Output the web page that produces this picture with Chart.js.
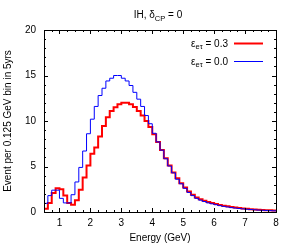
<!DOCTYPE html>
<html>
<head>
<meta charset="utf-8">
<script src="https://cdn.jsdelivr.net/npm/chart.js@4"></script>
<style>
  body { margin: 0; background: #fff; }
  canvas { display: block; }
</style>
</head>
<body>
<canvas id="histChart" width="294" height="245"></canvas>
<script>
// bin left edges: 0.5 .. 7.875 GeV, width 0.125
const binStart = 0.5;
const binWidth = 0.125;
const eps03 = [0.35, 1.0, 2.1, 2.6, 2.5, 1.8, 1.0, 0.8, 1.3, 2.45, 3.8, 5.1,
  6.4, 7.1, 8.3, 9.45, 10.4, 11.1, 11.5, 11.85, 12.0, 12.0, 11.85, 11.55, 11.1, 10.6, 10.0, 9.35,
  8.55, 7.7, 6.8, 5.9, 5.1, 4.35, 3.7, 3.15, 2.7, 2.25, 1.9, 1.6,
  1.4, 1.25, 1.1, 0.98, 0.88, 0.78, 0.7, 0.62, 0.55, 0.49, 0.44, 0.39, 0.35, 0.31, 0.28, 0.25, 0.22, 0.2, 0.18, 0.16];
const eps00 = [0.95, 1.8, 2.4, 2.4, 1.5, 1.0, 1.0, 1.9, 3.3, 4.9, 6.7, 8.6,
  10.2, 11.6, 12.8, 13.6, 14.4, 14.7, 15.0, 15.0, 14.7, 14.4, 13.9, 13.15, 12.4, 11.6, 10.6, 9.7,
  8.65, 7.7, 6.8, 5.85, 5.05, 4.3, 3.6, 3.1, 2.6, 2.15, 1.8, 1.5,
  1.3, 1.15, 1.0, 0.9, 0.8, 0.7, 0.62, 0.55, 0.48, 0.43, 0.38, 0.34, 0.3, 0.27, 0.24, 0.21, 0.19, 0.17, 0.15, 0.13];
const xTicks = [1, 2, 3, 4, 5, 6, 7, 8];
const yTicks = [0, 5, 10, 15, 20];

const FONT = 'Liberation Sans, Arial, sans-serif';

function toSteps(vals) {
  const pts = vals.map((v, i) => ({ x: binStart + i * binWidth, y: v }));
  pts.push({ x: binStart + vals.length * binWidth, y: vals[vals.length - 1] });
  return pts;
}

// text with a subscript part, e.g. ['IH, δ', 'CP', ' = 0']
function drawSub(ctx, parts, x, y, align) {
  const big = '10px ' + FONT, small = '7.5px ' + FONT;
  ctx.font = big; const w0 = ctx.measureText(parts[0]).width;
  ctx.font = small; const w1 = ctx.measureText(parts[1]).width;
  ctx.font = big; const w2 = ctx.measureText(parts[2]).width;
  const total = w0 + w1 + w2;
  let sx = align === 'right' ? x - total : x - total / 2;
  ctx.textAlign = 'left';
  ctx.textBaseline = 'alphabetic';
  ctx.font = big; ctx.fillText(parts[0], sx, y);
  ctx.font = small; ctx.fillText(parts[1], sx + w0, y + 2.5);
  ctx.font = big; ctx.fillText(parts[2], sx + w0 + w1, y);
}

const framePlugin = {
  id: 'frame',
  afterDraw(chart) {
    const { ctx, chartArea: a, scales: { x, y } } = chart;
    ctx.save();
    ctx.strokeStyle = '#000';
    ctx.lineWidth = 1;
    ctx.strokeRect(a.left + 0.5, a.top + 0.5, a.right - a.left, a.bottom - a.top);
    ctx.beginPath();
    for (let v = 0.5; v <= 8.0001; v += 0.25) {
      const px = Math.round(x.getPixelForValue(v)) + 0.5;
      const len = Number.isInteger(v) ? 4 : 2;
      ctx.moveTo(px, a.bottom); ctx.lineTo(px, a.bottom - len);
      ctx.moveTo(px, a.top); ctx.lineTo(px, a.top + len);
    }
    for (let v = 0; v <= 20; v += 1) {
      const py = Math.round(y.getPixelForValue(v)) + 0.5;
      const len = v % 5 === 0 ? 4 : 2;
      ctx.moveTo(a.left, py); ctx.lineTo(a.left + len, py);
      ctx.moveTo(a.right, py); ctx.lineTo(a.right - len, py);
    }
    ctx.stroke();

    ctx.fillStyle = '#000';
    drawSub(ctx, ['IH, \u03b4', 'CP', ' = 0'], 158, 18, 'center');

    const items = [
      { parts: ['\u03b5', 'e\u03c4', ' = 0.3'], color: '#ff0000', width: 2, y: 43 },
      { parts: ['\u03b5', 'e\u03c4', ' = 0.0'], color: '#0000ff', width: 1, y: 61 }
    ];
    items.forEach(it => {
      ctx.fillStyle = '#000';
      drawSub(ctx, it.parts, 228, it.y + 3.5, 'right');
      ctx.beginPath();
      ctx.strokeStyle = it.color;
      ctx.lineWidth = it.width;
      ctx.moveTo(234, it.y + 0.5); ctx.lineTo(263, it.y + 0.5);
      ctx.stroke();
    });
    ctx.restore();
  }
};

new Chart(document.getElementById('histChart').getContext('2d'), {
  type: 'line',
  data: {
    datasets: [
      {
        label: 'eps 0.0',
        data: toSteps(eps00),
        borderColor: '#0000ff',
        borderWidth: 1,
        stepped: 'before',
        pointRadius: 0,
        fill: false
      },
      {
        label: 'eps 0.3',
        data: toSteps(eps03),
        borderColor: '#ff0000',
        borderWidth: 2,
        stepped: 'before',
        pointRadius: 0,
        fill: false
      }
    ]
  },
  options: {
    responsive: false,
    animation: false,
    layout: { padding: { left: 0, right: 18, top: 30, bottom: 0 } },
    plugins: { legend: { display: false }, tooltip: { enabled: false } },
    scales: {
      x: {
        type: 'linear',
        min: 0.5,
        max: 8,
        afterBuildTicks: s => { s.ticks = xTicks.map(v => ({ value: v })); },
        afterFit: s => { s.height = 33; },
        grid: { display: false, drawTicks: false },
        border: { display: false },
        ticks: { padding: 5, color: '#000', font: { family: FONT, size: 10 } },
        title: {
          display: true,
          text: 'Energy (GeV)',
          color: '#000',
          font: { family: FONT, size: 10 },
          padding: { top: 0, bottom: 1 }
        }
      },
      y: {
        min: 0,
        max: 20,
        afterBuildTicks: s => { s.ticks = yTicks.map(v => ({ value: v })); },
        afterFit: s => { s.width = 44; },
        grid: { display: false, drawTicks: false },
        border: { display: false },
        ticks: { padding: 8, color: '#000', font: { family: FONT, size: 10 } },
        title: {
          display: true,
          text: 'Event per 0.125 GeV bin in 5yrs',
          color: '#000',
          font: { family: FONT, size: 10 },
          padding: { top: 2, bottom: 0 }
        }
      }
    }
  },
  plugins: [framePlugin]
});
</script>
</body>
</html>
